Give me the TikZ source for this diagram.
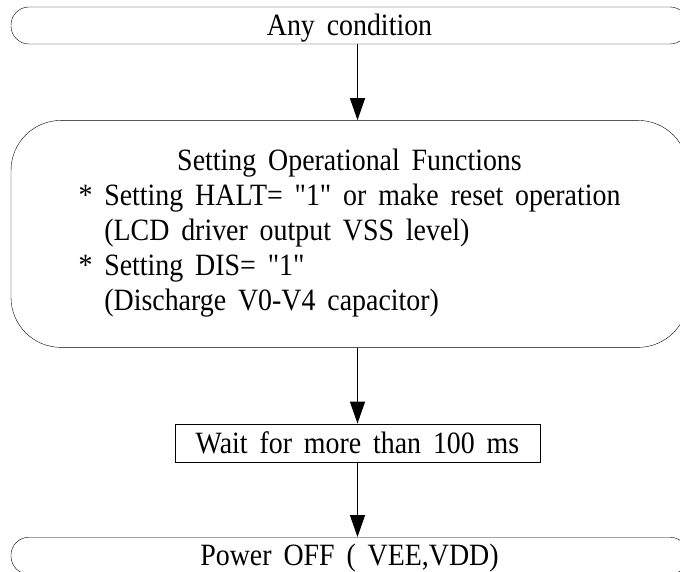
\documentclass[tikz,border=0pt]{standalone}
\usepackage{fontspec}
\setmainfont{Liberation Serif}[Ligatures=TeXOff, FakeStretch=0.9, WordSpace=1.7]
\usetikzlibrary{arrows.meta,positioning}

\begin{document}
\begin{tikzpicture}[x=1pt, y=-1pt,
    term/.style={draw, rounded corners=18pt, minimum width=677pt, minimum height=37pt, inner sep=0pt, text height=20.5pt, text depth=0pt},
    proc/.style={draw, rounded corners=50pt, minimum width=677pt, minimum height=227pt, inner sep=0pt},
    wbox/.style={draw, minimum width=365pt, minimum height=38pt, inner sep=0pt, text height=20.5pt, text depth=0pt},
    arr/.style={-{Triangle[length=22pt, width=15pt]}, line width=1.3pt}
]
\useasboundingbox (0,0) rectangle (680,572);
\fontsize{31}{35}\selectfont
\node[term] (any) at (349.5,25.5) {Any condition};
\node[proc, below=76pt of any] (setfn) {\raisebox{-4pt}{\begin{tabular}{@{}l@{}}
  \multicolumn{1}{@{}c@{}}{Setting Operational Functions}\\
  {*} Setting HALT= "1" or make reset operation\\
  \phantom{* }(LCD driver output VSS level)\\
  {*} Setting DIS= "1"\\
  \phantom{* }(Discharge V0-V4 capacitor)
\end{tabular}}};
\node[wbox, below=76pt of setfn, xshift=8pt] (wait) {Wait for more than 100 ms};
\node[term, below=75pt of wait, xshift=-8pt] (off) {Power OFF ( VEE,VDD)};
\draw[arr] (any.south -| wait) -- (setfn.north -| wait);
\draw[arr] (setfn.south -| wait) -- (wait);
\draw[arr] (wait) -- (off.north -| wait);
\end{tikzpicture}
\end{document}
